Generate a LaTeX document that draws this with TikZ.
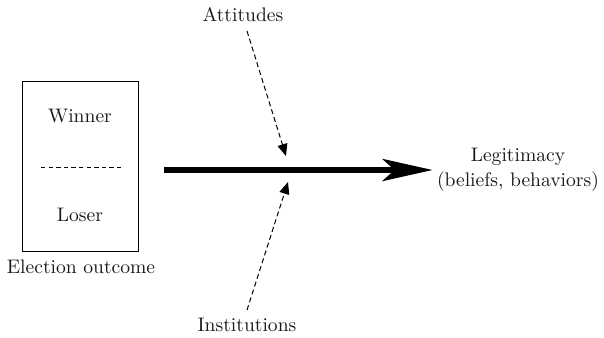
\documentclass[tikz,border=0pt]{standalone}
\usetikzlibrary{arrows.meta}
\begin{document}
\begin{tikzpicture}[x=0.5pt,y=-0.5pt,
  every node/.style={font=\rmfamily\fontsize{9.8pt}{12.5pt}\selectfont, inner sep=0pt},
  lbl/.style={text=black!90},
  dasharrow/.style={line width=0.5pt, dash pattern=on 2.5pt off 1.6pt, -{Triangle[length=6pt,width=5pt]}},
  mainarrow/.style={line width=3pt, -{Stealth[length=25pt,width=11pt,inset=6pt]}}
]
\useasboundingbox (0,0) rectangle (604,337);
\node[draw, line width=0.5pt, minimum width=58pt, minimum height=85pt] (box) at (80,166) {};
\node[lbl] (win) at (80,116) {Winner};
\node[lbl] (lose) at (80,215) {Loser};
\coordinate (dl) at (41,167);
\coordinate (dr) at (121,167);
\draw[line width=0.5pt, dash pattern=on 2.2pt off 1.6pt] (dl) -- (dr);
\node[lbl] (elec) at (81,267) {Election outcome};
\coordinate (mstart) at (164,170);
\node[lbl, align=center, inner sep=2pt] (legit) at (518,170) {Legitimacy\\(beliefs, behaviors)};
\draw[mainarrow] (mstart) -- (legit.west);
\node[lbl] (att) at (243,15) {Attitudes};
\node[lbl] (inst) at (247,325) {Institutions};
\coordinate (atip) at (286,156);
\coordinate (itip) at (288,182);
\coordinate (astart) at (247,31);
\coordinate (istart) at (247,310);
\draw[dasharrow] (astart) -- (atip);
\draw[dasharrow] (istart) -- (itip);
\end{tikzpicture}
\end{document}
